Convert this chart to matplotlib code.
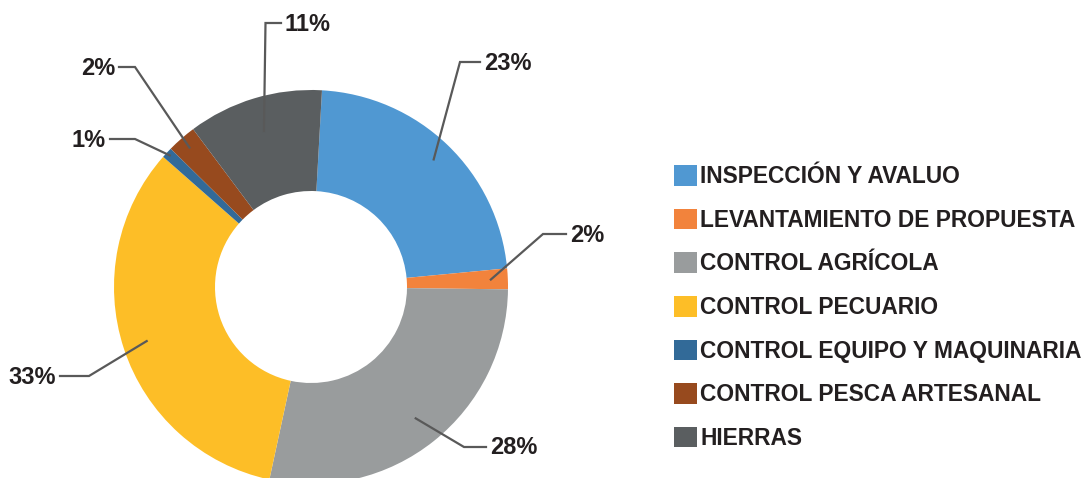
import matplotlib.pyplot as plt
from matplotlib.patches import Patch
import numpy as np

# categories and shares (%)
categorias = ['INSPECCIÓN Y AVALUO', 'LEVANTAMIENTO DE PROPUESTA', 'CONTROL AGRÍCOLA',
              'CONTROL PECUARIO', 'CONTROL EQUIPO Y MAQUINARIA', 'CONTROL PESCA ARTESANAL',
              'HIERRAS']
valores = [22.6, 1.7, 28.2, 33.1, 0.9, 2.4, 11.1]
colores = ['#5098D2', '#F2833C', '#999C9D', '#FDBE27', '#326A98', '#974A1E', '#5A5E60']

# label layout (pixels, y up): line start radius, elbow, end of horizontal, text x, alignment
radio_ini = [177, 180, 168, 173, 193, 185, 163]
codos = [(460, 416), (543, 244), (464, 31), (89, 102), (135, 339), (135, 411), (265.5, 455)]
fin_linea = [480, 566, 486, 60, 110, 119, 281]
texto_x = [484, 570, 490, 56, 106, 115, 285]
alineacion = ['left', 'left', 'left', 'right', 'right', 'right', 'left']

fuente = ['Liberation Sans', 'DejaVu Sans']
plt.rcParams['font.family'] = fuente

W, H = 1082, 478
fig = plt.figure(figsize=(W / 100, H / 100), dpi=100)
ax = fig.add_axes([0, 0, 1, 1])

cx, cy, R, r_in = 311, 191, 197, 96
wedges, _ = ax.pie(valores, colors=colores, startangle=90 - 3.2, counterclock=False,
                   center=(cx, cy), radius=R, frame=True,
                   wedgeprops=dict(width=R - r_in, linewidth=0))
ax.set_xlim(0, W)
ax.set_ylim(0, H)
ax.set_aspect('equal')
ax.axis('off')

for i, w in enumerate(wedges):
    ang = np.deg2rad((w.theta1 + w.theta2) / 2)
    x0 = cx + radio_ini[i] * np.cos(ang)
    y0 = cy + radio_ini[i] * np.sin(ang)
    ex, ey = codos[i]
    ax.plot([x0, ex, fin_linea[i]], [y0, ey, ey], color='#595959', lw=1.6,
            solid_joinstyle='miter', zorder=3)
    ax.text(texto_x[i], ey - 1, f'{valores[i]:.0f}%', ha=alineacion[i], va='center',
            fontsize=17, fontweight='bold', color='#231F20')

handles = [Patch(facecolor=c, edgecolor='none') for c in colores]
leg = ax.legend(handles, categorias, loc='upper left', bbox_to_anchor=(674, 313),
                bbox_transform=ax.transData, frameon=False,
                prop=dict(family=fuente, weight='bold', size=16.4),
                handlelength=1.02, handleheight=1.02, handletextpad=0.13,
                labelspacing=0.9, borderpad=0, borderaxespad=0)
for t in leg.get_texts():
    t.set_color('#231F20')

fig.savefig('out.png', dpi=100)
